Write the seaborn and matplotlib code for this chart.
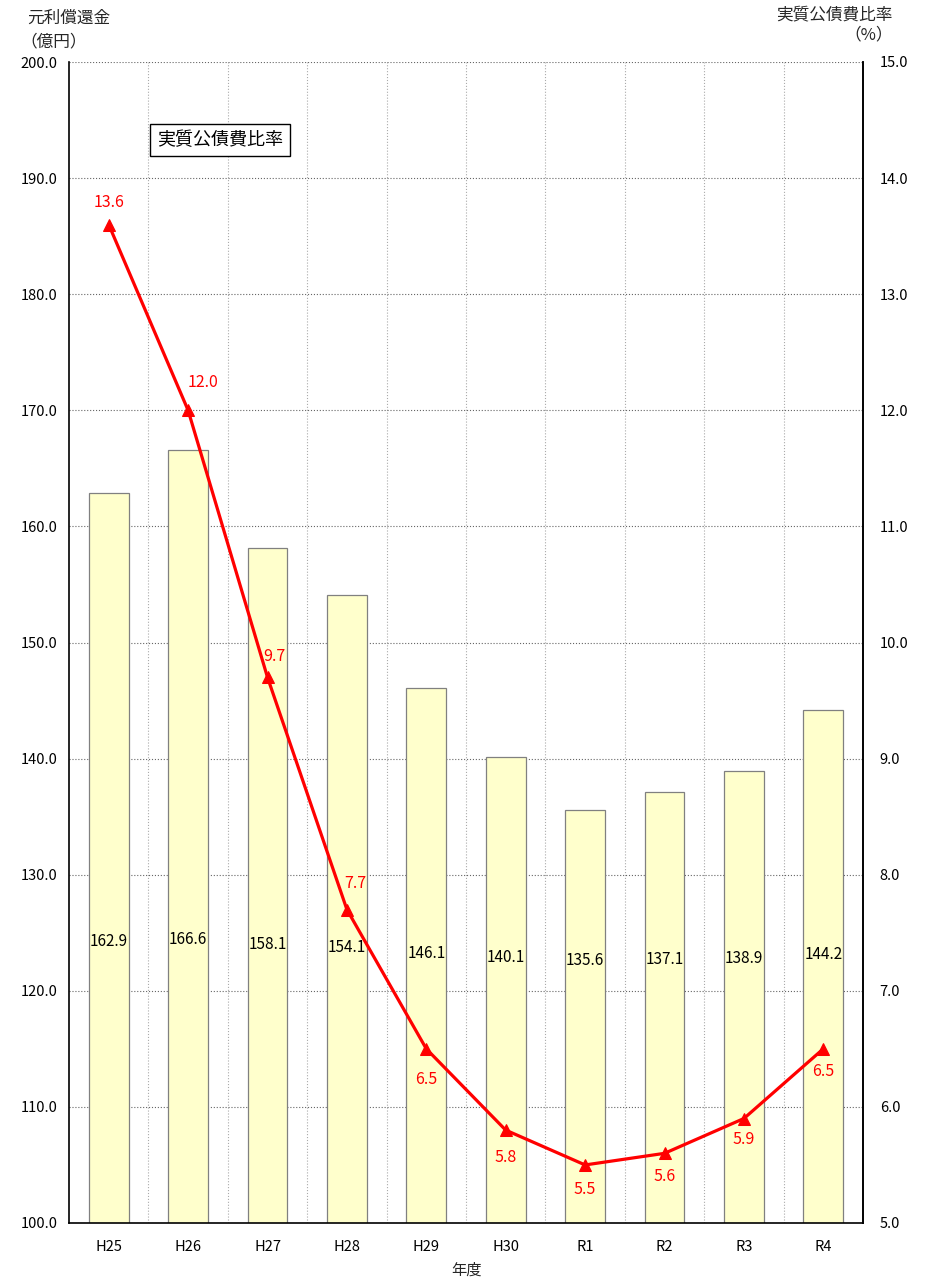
import numpy as np
import pandas as pd
import matplotlib
matplotlib.use("Agg")
import matplotlib.pyplot as plt
import seaborn as sns

# データ
years = ['H25', 'H26', 'H27', 'H28', 'H29', 'H30', 'R1', 'R2', 'R3', 'R4']
repay = [162.9, 166.6, 158.1, 154.1, 146.1, 140.1, 135.6, 137.1, 138.9, 144.2]
ratio = [13.6, 12.0, 9.7, 7.7, 6.5, 5.8, 5.5, 5.6, 5.9, 6.5]
left_ticks = [100, 110, 120, 130, 140, 150, 160, 170, 180, 190, 200]
right_ticks = [5, 6, 7, 8, 9, 10, 11, 12, 13, 14, 15]

df = pd.DataFrame({'年度': years, '元利償還金': repay, '比率': ratio})
df['pos'] = np.arange(len(df))

sns.set_theme(style='white')
plt.rcParams['font.family'] = ['Noto Sans CJK JP', 'DejaVu Sans']

fig = plt.figure(figsize=(9.3, 12.79), dpi=100)
ax = fig.add_axes([69/930, 1 - 1223/1279, (863-69)/930, (1223-62)/1279])

sns.barplot(data=df, x='年度', y='元利償還金', ax=ax, color='#FFFFCC',
            edgecolor='#808080', linewidth=0.9, width=0.5, saturation=1)
ax.set_ylim(100, 200)
ax.set_xlim(-0.5, len(years) - 0.5)
ax.set_yticks(left_ticks)
ax.set_yticklabels([f'{t:.1f}' for t in left_ticks], fontsize=10.5)
ax.set_xticks(range(len(years)))
ax.set_xticklabels(years, fontsize=10.5)
ax.set_xticks(np.arange(0.5, len(years) - 0.5, 1), minor=True)
ax.tick_params(axis='both', which='both', length=0, colors='black')
ax.tick_params(axis='x', pad=12)
ax.tick_params(axis='y', pad=8)
ax.grid(axis='y', which='major', color='#666666', linestyle=':', linewidth=0.8)
ax.grid(axis='x', which='minor', color='#aaaaaa', linestyle=':', linewidth=0.8)
ax.set_axisbelow(True)
ax.set_ylabel('')
ax.set_xlabel('年度', fontsize=11, labelpad=6)
for s in ['left', 'bottom', 'right']:
    ax.spines[s].set_visible(True)
    ax.spines[s].set_color('black')
    ax.spines[s].set_linewidth(1.2)
ax.spines['top'].set_visible(False)

# 棒グラフの値ラベル
for i, v in enumerate(repay):
    ax.text(i, 122.6 + (v - 135.6) * 0.06, f'{v:.1f}', ha='center', va='center',
            fontsize=11, color='black')

ax2 = ax.twinx()
sns.lineplot(data=df, x='pos', y='比率', ax=ax2, color='#FF0000', linewidth=2.3,
             marker='^', markersize=8, markeredgecolor='#FF0000')
ax2.set_ylim(5, 15)
ax2.set_xlim(-0.5, len(years) - 0.5)
ax2.set_yticks(right_ticks)
ax2.set_yticklabels([f'{t:.1f}' for t in right_ticks], fontsize=10.5)
ax2.tick_params(axis='y', length=0, pad=12, colors='black')
ax2.set_ylabel('')
ax2.set_xlabel('')
for s in ['top', 'left', 'bottom']:
    ax2.spines[s].set_visible(False)
ax2.spines['right'].set_color('black')
ax2.spines['right'].set_linewidth(1.2)

offsets = [(0, 16), (11, 20), (5, 15), (6, 19), (0, -22), (0, -20), (0, -18),
           (0, -17), (0, -15), (0, -16)]
for i, (v, off) in enumerate(zip(ratio, offsets)):
    ax2.annotate(f'{v:.1f}', (i, v), xytext=off, textcoords='offset points',
                 ha='center', va='center', fontsize=11.5, color='#FF0000')

# 凡例風のボックス
ax.text(0.19, 0.933, '実質公債費比率', transform=ax.transAxes, ha='center', va='center',
        fontsize=13, color='black',
        bbox=dict(boxstyle='square,pad=0.4', facecolor='white', edgecolor='black', linewidth=1.0))

fig.text(27/930, 1 - 18/1279, '元利償還金', ha='left', va='center', fontsize=12)
fig.text(20/930, 1 - 42/1279, '（億円）', ha='left', va='center', fontsize=12)
fig.text(893/930, 1 - 15/1279, '実質公債費比率', ha='right', va='center', fontsize=12)
fig.text(893/930, 1 - 35/1279, '（%）', ha='right', va='center', fontsize=12)

fig.savefig('out.png', dpi=100, facecolor='white')
